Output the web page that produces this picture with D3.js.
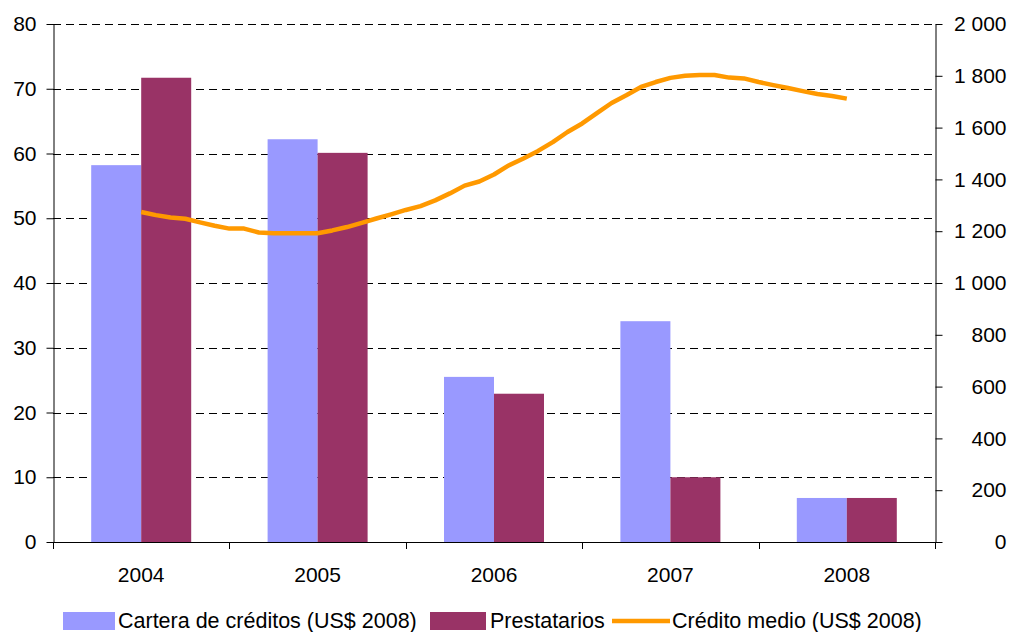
<!DOCTYPE html>
<html>
<head>
<meta charset="utf-8">
<script src="https://cdn.jsdelivr.net/npm/d3@7"></script>
<style>
  body { margin: 0; background: #fff; }
  text { font-family: "Liberation Sans", Arial, sans-serif; fill: #000; }
</style>
</head>
<body>
<div id="chart"></div>
<script>
// data
const years = ["2004", "2005", "2006", "2007", "2008"];
const cartera = [58.2, 62.2, 25.5, 34.1, 6.8];
const prestatarios = [71.7, 60.1, 22.9, 10.0, 6.8];
// monthly average credit, Jan 2004 .. Jan 2008 (right axis)
const creditoMedio = [
  1274, 1262, 1253, 1248, 1234, 1221, 1210, 1210, 1195, 1192, 1192, 1192,
  1192, 1203, 1216, 1232, 1249, 1265, 1282, 1297, 1319, 1346, 1376, 1392,
  1419, 1454, 1481, 1510, 1544, 1583, 1616, 1656, 1695, 1725, 1757, 1776,
  1792, 1800, 1803, 1803, 1793, 1790, 1776, 1764, 1753, 1741, 1730, 1722,
  1712
];
const leftTicks = [0, 10, 20, 30, 40, 50, 60, 70, 80];
const rightTicks = [0, 200, 400, 600, 800, 1000, 1200, 1400, 1600, 1800, 2000];
const seriesNames = ["Cartera de créditos (US$ 2008)", "Prestatarios", "Crédito medio (US$ 2008)"];
const colors = ["#9999ff", "#993366", "#ff9900"];

const W = 1009, H = 632;
const plot = { left: 53, right: 935, top: 24, bottom: 542 };

const svg = d3.select("#chart").append("svg")
  .attr("width", W)
  .attr("height", H);

svg.append("rect").attr("width", W).attr("height", H).attr("fill", "#fff");

const x = d3.scaleBand().domain(years).range([plot.left, plot.right]).padding(0);
const x1 = d3.scaleBand().domain([0, 1]).range([0, x.bandwidth()])
  .paddingInner(0).paddingOuter(0.764);
const y = d3.scaleLinear().domain([0, 80]).range([plot.bottom, plot.top]);
const y2 = d3.scaleLinear().domain([0, 2000]).range([plot.bottom, plot.top]);
const xLine = d3.scaleLinear().domain([0, creditoMedio.length - 1])
  .range([x(years[0]) + x.bandwidth() / 2, x(years[years.length - 1]) + x.bandwidth() / 2]);

const loc = d3.formatLocale({ decimal: ",", thousands: " ", grouping: [3], currency: ["", " $"] });
const fmt = loc.format(",");

// dashed grid
svg.append("g")
  .selectAll("line")
  .data(leftTicks.filter(d => d > 0))
  .join("line")
  .attr("x1", plot.left).attr("x2", plot.right)
  .attr("y1", d => Math.round(y(d)) + 0.5).attr("y2", d => Math.round(y(d)) + 0.5)
  .attr("stroke", "#000")
  .attr("stroke-dasharray", "8,5");

// bars
const groups = svg.append("g")
  .selectAll("g")
  .data(years)
  .join("g")
  .attr("transform", d => `translate(${x(d)},0)`);

groups.append("rect")
  .attr("x", x1(0))
  .attr("width", x1.bandwidth())
  .attr("y", (d, i) => y(cartera[i]))
  .attr("height", (d, i) => y(0) - y(cartera[i]))
  .attr("fill", colors[0]);

groups.append("rect")
  .attr("x", x1(1))
  .attr("width", x1.bandwidth())
  .attr("y", (d, i) => y(prestatarios[i]))
  .attr("height", (d, i) => y(0) - y(prestatarios[i]))
  .attr("fill", colors[1]);

// line
svg.append("path")
  .datum(creditoMedio)
  .attr("fill", "none")
  .attr("stroke", colors[2])
  .attr("stroke-width", 4.5)
  .attr("stroke-linejoin", "round")
  .attr("d", d3.line().x((d, i) => xLine(i)).y(d => y2(d)));

// left axis
const axL = svg.append("g")
  .attr("transform", `translate(${plot.left + 0.5},0)`)
  .call(d3.axisLeft(y).tickValues(leftTicks).tickSize(7).tickSizeOuter(0).tickPadding(10));

// right axis
const axR = svg.append("g")
  .attr("transform", `translate(${plot.right + 0.5},0)`)
  .call(d3.axisRight(y2).tickValues(rightTicks).tickSize(7).tickSizeOuter(0).tickPadding(10).tickFormat(fmt));
axR.selectAll("text").attr("text-anchor", "end").attr("x", 1006 - plot.right);

[axL, axR].forEach(a => {
  a.selectAll("path, line").attr("stroke", "#000");
  a.selectAll("text").style("font-size", "21px").attr("fill", "#000");
});

// bottom axis
svg.append("line")
  .attr("x1", plot.left).attr("x2", plot.right + 1)
  .attr("y1", plot.bottom + 0.5).attr("y2", plot.bottom + 0.5)
  .attr("stroke", "#000");

svg.append("g")
  .selectAll("line")
  .data(years.map(d => x(d)).concat([x.range()[1]]))
  .join("line")
  .attr("x1", d => Math.round(d) + 0.5).attr("x2", d => Math.round(d) + 0.5)
  .attr("y1", plot.bottom).attr("y2", plot.bottom + 7)
  .attr("stroke", "#000");

svg.append("g")
  .selectAll("text")
  .data(years)
  .join("text")
  .attr("x", d => x(d) + x.bandwidth() / 2)
  .attr("y", 582)
  .attr("text-anchor", "middle")
  .style("font-size", "21px")
  .text(d => d);

// legend
const legend = svg.append("g");
legend.append("rect").attr("x", 63).attr("y", 612).attr("width", 52).attr("height", 18).attr("fill", colors[0]);
legend.append("rect").attr("x", 430).attr("y", 612).attr("width", 56).attr("height", 18).attr("fill", colors[1]);
legend.append("line").attr("x1", 612).attr("x2", 670)
  .attr("y1", 621).attr("y2", 621)
  .attr("stroke", colors[2]).attr("stroke-width", 4.5);

const legTextX = [118, 490, 672];
legend.selectAll("text")
  .data(seriesNames)
  .join("text")
  .attr("x", (d, i) => legTextX[i])
  .attr("y", 628)
  .style("font-size", "21.5px")
  .text(d => d);
</script>
</body>
</html>
